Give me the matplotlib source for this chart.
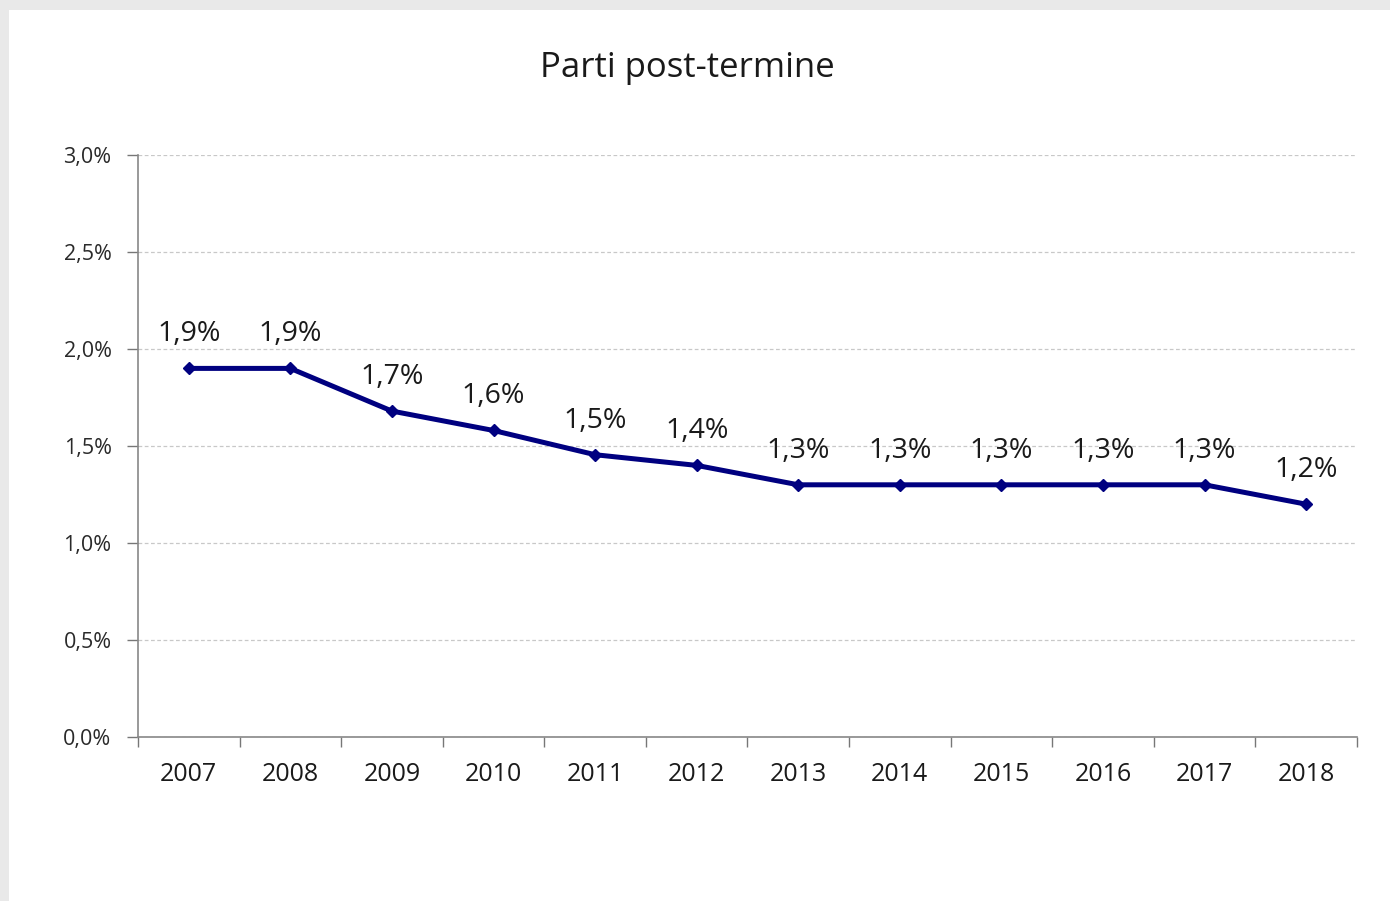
import matplotlib
matplotlib.use("Agg")
import matplotlib.pyplot as plt
from matplotlib.patches import Rectangle
from matplotlib.ticker import FixedLocator, FuncFormatter

years = ["2007", "2008", "2009", "2010", "2011", "2012", "2013", "2014", "2015", "2016", "2017", "2018"]
values = [1.90, 1.90, 1.68, 1.58, 1.455, 1.40, 1.30, 1.30, 1.30, 1.30, 1.30, 1.20]
yticks = [0.0, 0.5, 1.0, 1.5, 2.0, 2.5, 3.0]
title = "Parti post-termine"

plt.rcParams['font.family'] = ['Open Sans', 'DejaVu Sans']

fig = plt.figure(figsize=(13.9, 9.01), dpi=100)
fig.patch.set_facecolor('#e9e9e9')
fig.patches.append(Rectangle((9/1390, 0), 1 - 9/1390, 1 - 10/901, transform=fig.transFigure,
                             facecolor='white', edgecolor='none', zorder=-5))

ax = fig.add_axes([138/1390, 1 - 737/901, (1357 - 138)/1390, (737 - 155)/901])
ax.set_zorder(2)
ax.set_facecolor('none')
x = list(range(len(years)))
ax.plot(x, values, color='#000080', lw=3.6, marker='D', ms=6.5, mfc='#000080', mec='#000080', zorder=3,
        solid_joinstyle='round')
for xi, v in zip(x, values):
    ax.annotate(f"{v:.1f}".replace('.', ',') + "%", (xi, v), xytext=(0, 24.5), textcoords='offset points',
                ha='center', va='center', fontsize=20.5, color='#1a1a1a')

ax.set_xlim(-0.5, len(years) - 0.5)
ax.set_ylim(0, 3.0)
ax.yaxis.set_major_locator(FixedLocator(yticks))
ax.yaxis.set_major_formatter(FuncFormatter(lambda v, p: f"{v:.1f}".replace('.', ',') + "%"))
ax.set_xticks(x)
ax.set_xticklabels(years)
ax.set_xticks([i - 0.5 for i in range(len(years) + 1)], minor=True)
ax.tick_params(axis='x', which='major', length=0, pad=18, labelsize=18, labelcolor='#1a1a1a')
ax.tick_params(axis='x', which='minor', length=7, width=1, color='#777777', direction='out')
ax.tick_params(axis='y', which='major', length=8, width=1, color='#777777', pad=11, labelsize=15.5,
               labelcolor='#2a2a2a')
ax.grid(axis='y', color='#c8c8c8', lw=0.9, ls=(0, (3, 2)))
ax.set_axisbelow(True)
for s in ['top', 'right']:
    ax.spines[s].set_visible(False)
for s in ['left', 'bottom']:
    ax.spines[s].set_color('#888888')
    ax.spines[s].set_linewidth(1.2)

fig.text(687/1390, 1 - 68/901, title, ha='center', va='center', fontsize=25, color='#1a1a1a', zorder=3)

fig.savefig('out.png', dpi=100, facecolor=fig.get_facecolor())
